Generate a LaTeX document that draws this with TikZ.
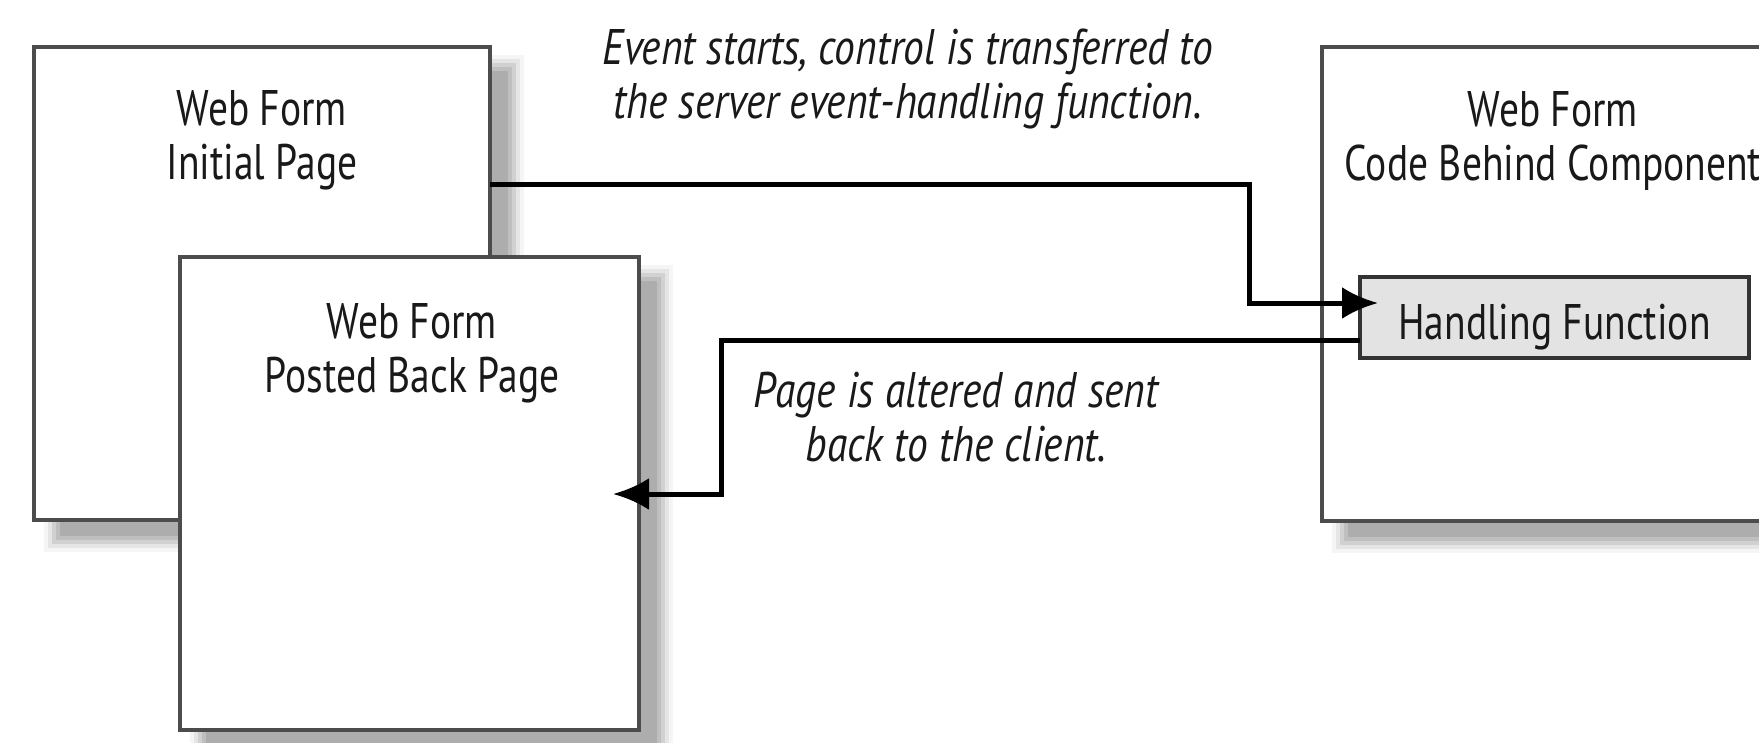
\documentclass[tikz,border=0pt]{standalone}
\usepackage{fontspec}
\setmainfont{PT Sans}[FakeStretch=0.79]
\newfontfamily\notefont{PT Sans}[FakeStretch=0.83]
\usetikzlibrary{arrows.meta,calc}
\pgfdeclarelayer{shadow}
\pgfsetlayers{shadow,main}

\tikzset{
  pagebox/.style={draw=black!70, line width=3.5pt, fill=white, inner sep=0pt,
    outer sep=0pt, anchor=north west},
  funcbox/.style={draw=black!80, line width=3.5pt, fill=black!11, inner sep=0pt,
    outer sep=0pt, anchor=north west, font=\fontsize{50}{54}\selectfont,
    text=black!90, text height=43pt, text depth=0pt},
  title/.style={font=\fontsize{50}{54}\selectfont, text=black!90, align=center,
    anchor=base, inner sep=0pt},
  note/.style={title, font=\fontsize{50}{54}\selectfont\notefont\itshape},
  flow/.style={line width=5pt, -{Latex[length=36pt,width=32pt]}},
}

% soft drop shadow below and right of a page box
\newcommand\pageshadow[1]{%
  \begin{pgfonlayer}{shadow}
    \foreach \l/\r/\t/\b/\c in {10/34/8/32/4, 14/30/12/28/10, 18/26/16/24/18,
                                22/22/20/20/25, 26/18/24/16/32}{
      \fill[black!\c] ($(#1.north west)+(\l,\t)$) rectangle ($(#1.south east)+(\r,\b)$);
    }
  \end{pgfonlayer}}

\begin{document}
\begin{tikzpicture}[x=1pt,y=-1pt]
  \useasboundingbox (0,0) rectangle (1759,742);
  \clip (0,0) rectangle (1759,742);

  % page boxes
  \node[pagebox, minimum width=456pt, minimum height=473pt] (box1) at (34,47) {};
  \node[pagebox, minimum width=459pt, minimum height=473pt] (box2) at (180,257) {};
  \node[pagebox, minimum width=458pt, minimum height=474pt] (box3) at (1322,47) {};
  \pageshadow{box1}
  \pageshadow{box2}
  \pageshadow{box3}

  % handler inside the code-behind component
  \node[funcbox, minimum width=389pt, minimum height=81pt] (hf) at (1360,277) {Handling Function};

  % box titles (placed by the baseline of their last line)
  \node[title] (t1) at (262,179) {Web Form\\Initial Page};
  \node[title] (t2) at (412,392) {Web Form\\Posted Back Page};
  \node[title] (t3) at (1553,180) {Web Form\\Code Behind Component};

  % connectors
  \coordinate (b1) at (1249,184);
  \coordinate (b2) at (1249,303);
  \draw[flow, shorten >=-18pt] (box1.east |- b1) -| (b2) -- (hf.west |- b2);

  \coordinate (c1) at (721,340);
  \coordinate (c2) at (721,494);
  \draw[flow, shorten >=-26pt] (hf.west |- c1) -| (c2) -- (box2.east |- c2);

  % connector notes
  \node[note] (n1) at (908,118) {Event starts, control is transferred to\\the server event-handling function.};
  \node[note] (n2) at (956,461) {Page is altered and sent\\back to the client.};
\end{tikzpicture}
\end{document}
